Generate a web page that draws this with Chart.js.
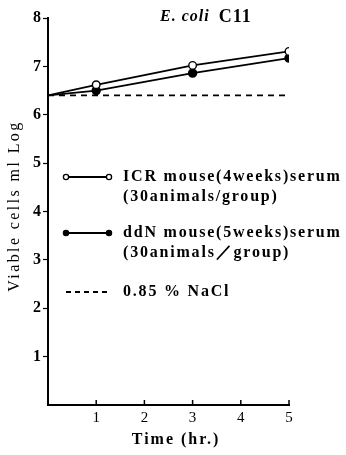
<!DOCTYPE html>
<html>
<head>
<meta charset="utf-8">
<script src="https://cdn.jsdelivr.net/npm/chart.js@4"></script>
<style>
  html, body { margin: 0; padding: 0; background: #fff; }
  #wrap { width: 346px; height: 455px; position: relative; }
</style>
</head>
<body>
<div id="wrap"><canvas id="cellsChart" width="346" height="455"></canvas></div>
<script>
(function () {
    "use strict";
    // values
    const timeHours = [0, 1, 3, 5];
    const icrValues = [6.4, 6.62, 7.02, 7.31];
    const ddnValues = [6.4, 6.5, 6.86, 7.17];
    const naclTimes = [0, 5];
    const naclValues = [6.4, 6.4];
    const xTicks = [1, 2, 3, 4, 5];
    const yTicks = [1, 2, 3, 4, 5, 6, 7, 8];

    const serif = "'Liberation Serif', 'DejaVu Serif', serif";

    function toPoints(xs, ys) {
        return xs.map((x, i) => ({ x: x, y: ys[i] }));
    }
    // no marker at t=0
    function markerSizes(xs, r) {
        return xs.map((x) => (x === 0 ? 0 : r));
    }

    // inner x ticks, titles and legend
    const decorPlugin = {
        id: "decor",
        afterDraw: function (chart) {
            const ctx = chart.ctx;
            const xs = chart.scales.x;
            const area = chart.chartArea;
            ctx.save();
            ctx.strokeStyle = "#000";
            ctx.lineWidth = 1.5;
            xTicks.forEach(function (t) {
                const px = xs.getPixelForValue(t);
                ctx.beginPath();
                ctx.moveTo(px, area.bottom);
                ctx.lineTo(px, area.bottom - 5);
                ctx.stroke();
            });

            // title
            ctx.fillStyle = "#000";
            ctx.textBaseline = "middle";
            ctx.letterSpacing = "1px";
            ctx.font = "italic bold 16px " + serif;
            ctx.fillText("E. coli", 160, 17);
            const w = ctx.measureText("E. coli ").width;
            ctx.font = "bold 18px " + serif;
            ctx.fillText("C11", 160 + w + 4, 17);

            // axis titles
            ctx.textAlign = "center";
            ctx.font = "bold 16px " + serif;
            ctx.letterSpacing = "2px";
            ctx.fillText("Time (hr.)", 176, 440);
            ctx.save();
            ctx.translate(15, 206);
            ctx.rotate(-Math.PI / 2);
            ctx.font = "16px " + serif;
            ctx.letterSpacing = "2.4px";
            ctx.fillText("Viable cells ml Log", 0, 0);
            ctx.restore();
            ctx.textAlign = "left";

            // legend
            const items = [
                { y: 177, fill: "#fff", dash: [], lines: ["ICR mouse(4weeks)serum", "(30animals/group)"] },
                { y: 233, fill: "#000", dash: [], lines: ["ddN mouse(5weeks)serum", "(30animals／group)"] },
                { y: 292, fill: null, dash: [5, 4], lines: ["0.85 % NaCl"] }
            ];
            items.forEach(function (it) {
                ctx.strokeStyle = "#000";
                ctx.lineWidth = 1.8;
                ctx.setLineDash(it.dash);
                ctx.beginPath();
                ctx.moveTo(66, it.y);
                ctx.lineTo(109, it.y);
                ctx.stroke();
                ctx.setLineDash([]);
                if (it.fill) {
                    [66, 109].forEach(function (cx) {
                        ctx.beginPath();
                        ctx.arc(cx, it.y, 2.6, 0, Math.PI * 2);
                        ctx.fillStyle = it.fill;
                        ctx.fill();
                        ctx.lineWidth = 1.3;
                        ctx.stroke();
                    });
                }
                ctx.fillStyle = "#000";
                ctx.font = "bold 16px " + serif;
                ctx.letterSpacing = "1.8px";
                it.lines.forEach(function (s, i) {
                    ctx.fillText(s, 123, it.y + i * 20);
                });
                ctx.letterSpacing = "0px";
            });
            ctx.restore();
        }
    };

    const config = {
        type: "line",
        data: {
            datasets: [
                {
                    label: "ICR mouse(4weeks)serum",
                    data: toPoints(timeHours, icrValues),
                    borderColor: "#000",
                    borderWidth: 1.8,
                    backgroundColor: "#fff",
                    pointBackgroundColor: "#fff",
                    pointBorderColor: "#000",
                    pointBorderWidth: 1.4,
                    pointRadius: markerSizes(timeHours, 3.8),
                    tension: 0,
                },
                {
                    label: "ddN mouse(5weeks)serum",
                    data: toPoints(timeHours, ddnValues),
                    borderColor: "#000",
                    borderWidth: 1.8,
                    backgroundColor: "#000",
                    pointBackgroundColor: "#000",
                    pointBorderColor: "#000",
                    pointRadius: markerSizes(timeHours, 3.8),
                    tension: 0,
                },
                {
                    label: "0.85 % NaCl",
                    data: toPoints(naclTimes, naclValues),
                    borderColor: "#000",
                    borderWidth: 1.6,
                    borderDash: [6, 5],
                    pointRadius: 0,
                    tension: 0,
                },
            ],
        },
        options: {
            responsive: false,
            animation: false,
            layout: { padding: { top: 18, right: 57, left: 0, bottom: 0 } },
            plugins: {
                legend: { display: false },
                title: { display: false },
                tooltip: { enabled: false },
            },
            scales: {
                x: {
                    type: "linear",
                    min: 0,
                    max: 5,
                    border: { color: "#000", width: 2 },
                    grid: { display: false },
                    afterBuildTicks: function (scale) {
                        scale.ticks = xTicks.map((v) => ({ value: v }));
                    },
                    afterFit: function (scale) {
                        scale.height = 50;
                    },
                    ticks: {
                        color: "#000",
                        font: { family: serif, size: 15 },
                        padding: -4,
                        maxRotation: 0,
                    },
                },
                y: {
                    min: 0,
                    max: 8,
                    border: { color: "#000", width: 2 },
                    grid: { drawOnChartArea: false, tickLength: 5, tickColor: "#000", tickWidth: 1.2 },
                    afterBuildTicks: function (scale) {
                        scale.ticks = yTicks.map((v) => ({ value: v }));
                    },
                    afterFit: function (scale) {
                        scale.width = 48;
                    },
                    ticks: {
                        color: "#000",
                        font: { family: serif, size: 16, weight: "bold" },
                        padding: 2,
                    },
                },
            },
        },
        plugins: [decorPlugin],
    };

    new Chart(document.getElementById("cellsChart"), config);
})();
</script>
</body>
</html>
